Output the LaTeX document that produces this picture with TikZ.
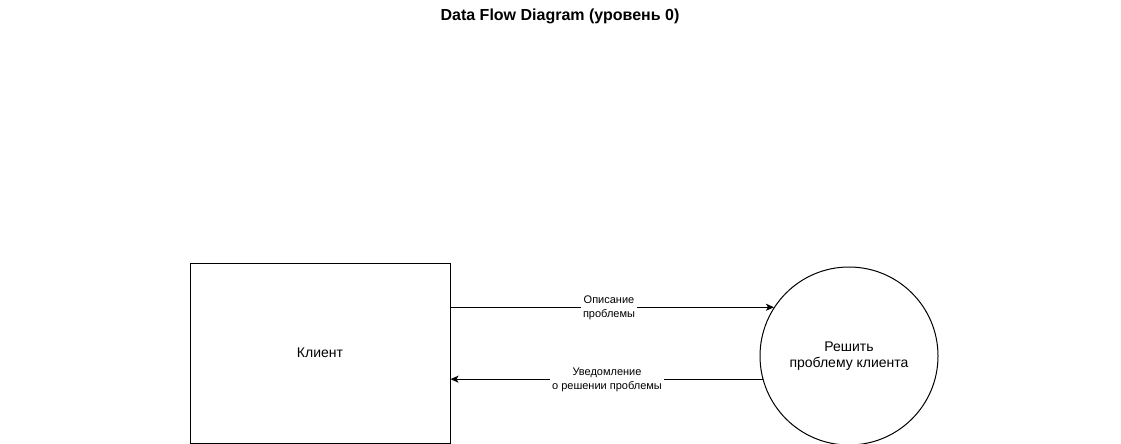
\documentclass[tikz,border=0pt]{standalone}
\usepackage{fontspec}
\setmainfont{Liberation Sans}
\usetikzlibrary{arrows.meta}
\begin{document}
\begin{tikzpicture}[x=1pt,y=-1pt,
  box/.style={draw=black,line width=1pt,minimum width=260pt,minimum height=180pt,inner sep=0pt,font=\fontsize{14}{16.5}\selectfont,align=center},
  proc/.style={draw=black,line width=1pt,circle,minimum size=178pt,inner sep=0pt,font=\fontsize{14}{16.5}\selectfont,align=center},
  flow/.style={line width=1pt,-{Stealth[length=8pt,width=7pt,inset=2pt]}},
  lbl/.style={fill=white,inner sep=2pt,font=\fontsize{11}{14}\selectfont,align=center},
  title/.style={font=\bfseries\fontsize{16}{18}\selectfont}]
\useasboundingbox (0,0) rectangle (1121,444);
\node[title] (t) at (560,16) {Data Flow Diagram (уровень 0)};
\node[box] (client) at (320,353) {Клиент};
\node[proc] (p) at (849,356) {Решить\\проблему клиента};
\coordinate (pin) at (p.147.4);
\coordinate (pout) at (p.195.6);
\draw[flow] (client.east |- pin) -- (pin);
\draw[flow] (pout) -- (client.east |- pout);
\node[lbl] (l1) at (609,308) {Описание\\проблемы};
\node[lbl] (l2) at (607,380) {Уведомление\\о решении проблемы};
\end{tikzpicture}
\end{document}
